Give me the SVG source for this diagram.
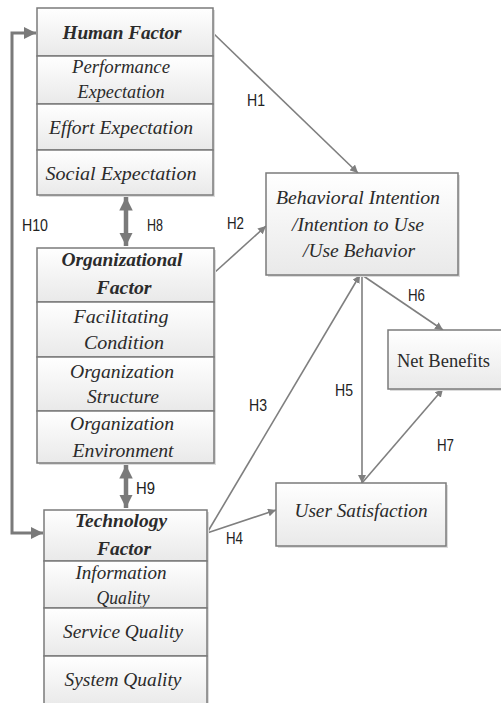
<svg xmlns="http://www.w3.org/2000/svg" width="501" height="703" viewBox="0 0 501 703">
<style>
.cell{fill:url(#g);stroke:#7b7b7b;stroke-width:1.5}
.sh{fill:#dcdcdc}
.t{font-family:"Liberation Serif",serif;font-style:italic;font-size:18px;fill:#2b2b2b;text-anchor:middle}
.b{font-weight:bold}
.n{font-family:"Liberation Serif",serif;font-size:18px;fill:#2b2b2b}
.lab{font-family:"Liberation Sans",sans-serif;font-size:17px;fill:#222}
.c{stroke:#7f7f7f;stroke-width:1.6;fill:none}
.thick{stroke:#7a7a7a;stroke-width:3;fill:none}
.fat{stroke:#7a7a7a;stroke-width:4.5;fill:none}
</style>
<defs>
<linearGradient id="g" x1="0" y1="0" x2="0" y2="1">
<stop offset="0" stop-color="#ffffff"/>
<stop offset="1" stop-color="#e9e9e9"/>
</linearGradient>
<marker id="a" viewBox="0 0 10 10" refX="10" refY="5" markerWidth="8" markerHeight="8" markerUnits="userSpaceOnUse" orient="auto-start-reverse">
<path d="M0,0 L10,5 L0,10 Z" fill="#7f7f7f"/>
</marker>
<marker id="am" viewBox="0 0 10 10" refX="10" refY="5" markerWidth="4" markerHeight="4" orient="auto-start-reverse">
<path d="M0,0 L10,5 L0,10 Z" fill="#7a7a7a"/>
</marker>
<marker id="al" viewBox="0 0 10 10" refX="10" refY="5" markerWidth="3" markerHeight="3" orient="auto-start-reverse">
<path d="M0,0 L10,5 L0,10 Z" fill="#7a7a7a"/>
</marker>
<clipPath id="iq"><rect x="44" y="561" width="163" height="46"/></clipPath>
</defs>

<g id="connectors">
<path class="thick" d="M36,33 H12 V533 H43" marker-start="url(#am)" marker-end="url(#am)"/>
<path class="fat" d="M126,197 V246" marker-start="url(#al)" marker-end="url(#al)"/>
<path class="fat" d="M126,465 V508" marker-start="url(#al)" marker-end="url(#al)"/>
<path class="c" d="M213,33 L358,173" marker-end="url(#a)"/>
<path class="c" d="M214,273 L266,226" marker-end="url(#a)"/>
<path class="c" d="M207,533 L360,275" marker-end="url(#a)"/>
<path class="c" d="M207,533 L276,510" marker-end="url(#a)"/>
<path class="c" d="M362,275 V483" marker-end="url(#a)"/>
<path class="c" d="M362,275 L443,330" marker-end="url(#a)"/>
<path class="c" d="M362,483 L443,389" marker-end="url(#a)"/>
<text class="lab" x="247" y="106" textLength="18" lengthAdjust="spacingAndGlyphs">H1</text>
<text class="lab" x="227" y="229" textLength="17" lengthAdjust="spacingAndGlyphs">H2</text>
<text class="lab" x="249" y="411" textLength="18" lengthAdjust="spacingAndGlyphs">H3</text>
<text class="lab" x="226" y="544" textLength="17" lengthAdjust="spacingAndGlyphs">H4</text>
<text class="lab" x="335" y="396" textLength="18" lengthAdjust="spacingAndGlyphs">H5</text>
<text class="lab" x="408" y="301" textLength="17" lengthAdjust="spacingAndGlyphs">H6</text>
<text class="lab" x="437" y="451" textLength="17" lengthAdjust="spacingAndGlyphs">H7</text>
<text class="lab" x="147" y="231" textLength="16" lengthAdjust="spacingAndGlyphs">H8</text>
<text class="lab" x="136" y="494" textLength="19" lengthAdjust="spacingAndGlyphs">H9</text>
<text class="lab" x="22" y="231" textLength="26" lengthAdjust="spacingAndGlyphs">H10</text>
</g>

<g id="human-factor">
<rect class="sh" x="39" y="10" width="176" height="187"/>
<rect class="cell" x="37" y="8" width="176" height="48"/>
<rect class="cell" x="37" y="56" width="176" height="48"/>
<rect class="cell" x="37" y="104" width="176" height="46"/>
<rect class="cell" x="37" y="150" width="176" height="45"/>
<text class="t b" x="122" y="39" textLength="119" lengthAdjust="spacingAndGlyphs">Human Factor</text>
<text class="t" x="121" y="73" textLength="98" lengthAdjust="spacingAndGlyphs">Performance</text>
<text class="t" x="121" y="98" textLength="87" lengthAdjust="spacingAndGlyphs">Expectation</text>
<text class="t" x="121" y="134" textLength="144" lengthAdjust="spacingAndGlyphs">Effort Expectation</text>
<text class="t" x="121" y="180" textLength="151" lengthAdjust="spacingAndGlyphs">Social Expectation</text>
</g>

<g id="organizational-factor">
<rect class="sh" x="39" y="250" width="177" height="215"/>
<rect class="cell" x="37" y="248" width="177" height="54"/>
<rect class="cell" x="37" y="302" width="177" height="55"/>
<rect class="cell" x="37" y="357" width="177" height="54"/>
<rect class="cell" x="37" y="411" width="177" height="52"/>
<text class="t b" x="122" y="266" textLength="121" lengthAdjust="spacingAndGlyphs">Organizational</text>
<text class="t b" x="124" y="294" textLength="55" lengthAdjust="spacingAndGlyphs">Factor</text>
<text class="t" x="121" y="323" textLength="95" lengthAdjust="spacingAndGlyphs">Facilitating</text>
<text class="t" x="124" y="349" textLength="80" lengthAdjust="spacingAndGlyphs">Condition</text>
<text class="t" x="122" y="378" textLength="104" lengthAdjust="spacingAndGlyphs">Organization</text>
<text class="t" x="123" y="403" textLength="72" lengthAdjust="spacingAndGlyphs">Structure</text>
<text class="t" x="122" y="430" textLength="104" lengthAdjust="spacingAndGlyphs">Organization</text>
<text class="t" x="123" y="457" textLength="101" lengthAdjust="spacingAndGlyphs">Environment</text>
</g>

<g id="technology-factor">
<rect class="sh" x="46" y="512" width="163" height="195"/>
<rect class="cell" x="44" y="510" width="163" height="51"/>
<rect class="cell" x="44" y="561" width="163" height="47"/>
<rect class="cell" x="44" y="608" width="163" height="48"/>
<rect class="cell" x="44" y="656" width="163" height="50"/>
<text class="t b" x="121" y="527" textLength="92" lengthAdjust="spacingAndGlyphs">Technology</text>
<text class="t b" x="124" y="555" textLength="54" lengthAdjust="spacingAndGlyphs">Factor</text>
<text class="t" x="121" y="579" textLength="91" lengthAdjust="spacingAndGlyphs">Information</text>
<text class="t" x="123" y="604" textLength="53" lengthAdjust="spacingAndGlyphs" clip-path="url(#iq)">Quality</text>
<text class="t" x="123" y="638" textLength="120" lengthAdjust="spacingAndGlyphs">Service Quality</text>
<text class="t" x="123" y="686" textLength="117" lengthAdjust="spacingAndGlyphs">System Quality</text>
</g>

<g id="behavioral-intention">
<rect class="sh" x="268" y="175" width="192" height="102"/>
<rect class="cell" x="266" y="173" width="192" height="102"/>
<text class="t" x="358" y="204" textLength="164" lengthAdjust="spacingAndGlyphs">Behavioral Intention</text>
<text class="t" x="358" y="231" textLength="132" lengthAdjust="spacingAndGlyphs">/Intention to Use</text>
<text class="t" x="359" y="257" textLength="112" lengthAdjust="spacingAndGlyphs">/Use Behavior</text>
</g>

<g id="net-benefits">
<rect class="sh" x="390" y="332" width="116" height="59"/>
<rect class="cell" x="388" y="330" width="116" height="59"/>
<text class="n" x="397" y="367" textLength="93" lengthAdjust="spacingAndGlyphs">Net Benefits</text>
</g>

<g id="user-satisfaction">
<rect class="sh" x="278" y="485" width="170" height="63"/>
<rect class="cell" x="276" y="483" width="170" height="63"/>
<text class="t" x="361" y="517" textLength="133" lengthAdjust="spacingAndGlyphs">User Satisfaction</text>
</g>
</svg>
